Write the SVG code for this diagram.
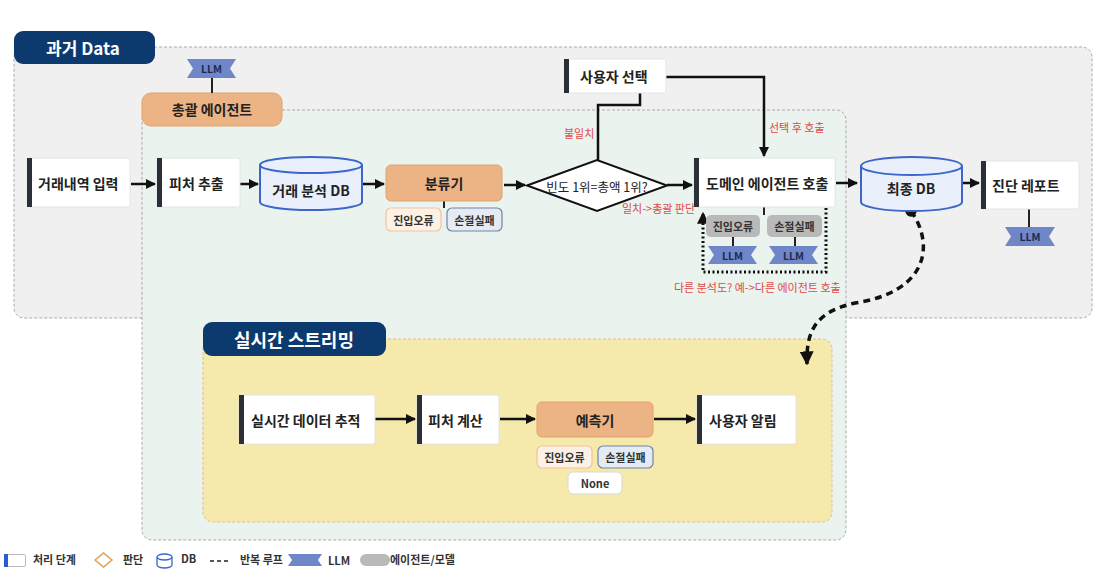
<svg xmlns="http://www.w3.org/2000/svg" width="1100" height="580" viewBox="0 0 1100 580">
<style>
text{font-family:"Noto Sans CJK KR","Noto Sans",sans-serif;fill:#222;}
.t{font-size:14px;font-weight:700;dominant-baseline:central;}
.tc{text-anchor:middle;}
.proc{fill:#fff;stroke:#e2e4e6;stroke-width:1;}
.bar{fill:#2b3038;}
.db{fill:#e9f0fc;stroke:#3c66c9;stroke-width:2;}
.orange{fill:#ecb485;stroke:#e2a26d;stroke-width:1;}
.tagO{fill:#fdf1e6;stroke:#f0c39c;stroke-width:1.2;}
.tagB{fill:#e5ebf4;stroke:#6f85a3;stroke-width:1.2;}
.tagW{fill:#fff;stroke:#d8d8d8;stroke-width:1;}
.tagG{fill:#b9b9b9;}
.tg{font-size:11px;font-weight:700;dominant-baseline:central;text-anchor:middle;fill:#333;}
.llm{fill:#6f86c9;}
.lt{font-size:10.5px;font-weight:700;dominant-baseline:central;text-anchor:middle;fill:#1d2b52;}
.red{font-size:11px;fill:#e04848;dominant-baseline:central;}
.conn{fill:none;stroke:#111;stroke-width:2.5;}
.thin{fill:none;stroke:#222;stroke-width:2;}
.pill{fill:#0c3a6e;}
.pt{fill:#fff;font-weight:700;dominant-baseline:central;text-anchor:middle;}
.lg{font-size:11px;font-weight:700;dominant-baseline:central;fill:#333;}
</style>
<defs>
<marker id="ah" viewBox="0 0 10 10" refX="9" refY="5" markerWidth="4" markerHeight="4" orient="auto-start-reverse">
<path d="M0,0 L10,5 L0,10 z" fill="#111"/>
</marker>
<marker id="dot" viewBox="0 0 10 10" refX="5" refY="5" markerWidth="3.6" markerHeight="3.6">
<circle cx="5" cy="5" r="4.5" fill="#111"/>
</marker>
</defs>
<rect width="1100" height="580" fill="#fff"/>

<!-- containers -->
<g id="past-data">
<rect x="14" y="47" width="1078" height="271" rx="10" fill="#f0f0f0" stroke="#a9a9a9" stroke-width="1" stroke-dasharray="3 2"/>
</g>
<g id="general-agent">
<rect x="142" y="110" width="704" height="430" rx="10" fill="#eaf3ee" stroke="#a9a9a9" stroke-width="1" stroke-dasharray="3 2"/>
</g>
<g id="realtime">
<rect x="203" y="339" width="629" height="183" rx="10" fill="#f5e9ab" stroke="#e7bd87" stroke-width="1" stroke-dasharray="3 2"/>
</g>
<g id="past-data-label">
<rect x="14" y="31" width="141" height="33" rx="9" class="pill"/>
<text x="83" y="47" class="pt" font-size="17">과거 Data</text>
</g>
<g id="general-agent-label">
<rect x="142" y="93" width="140" height="33" rx="9" class="orange" stroke="none"/>
<text x="212" y="109" class="t tc" font-size="16">총괄 에이전트</text>
</g>
<g id="realtime-label">
<rect x="203" y="322" width="183" height="34" rx="9" class="pill"/>
<text x="294" y="339" class="pt" font-size="18">실시간 스트리밍</text>
</g>

<!-- connectors -->
<g id="connectors">
<line x1="212" y1="78" x2="212" y2="93" class="thin"/>
<line x1="131" y1="184" x2="155" y2="184" class="conn" marker-end="url(#ah)"/>
<line x1="240" y1="184" x2="258" y2="184" class="conn" marker-end="url(#ah)"/>
<line x1="362" y1="184" x2="384" y2="184" class="conn" marker-end="url(#ah)"/>
<line x1="444" y1="201" x2="444" y2="208" class="thin"/>
<line x1="504" y1="185" x2="525" y2="185" class="conn" marker-end="url(#ah)"/>
<polyline points="640,93 640,105 598,105 598,160" class="conn"/>
<polyline points="666,77 764,77 764,156" class="conn" marker-end="url(#ah)"/>
<line x1="667" y1="185" x2="692" y2="185" class="conn" marker-end="url(#ah)"/>
<line x1="764" y1="207" x2="764" y2="215" class="thin"/>
<line x1="733" y1="237" x2="733" y2="246" class="thin"/>
<line x1="795" y1="237" x2="795" y2="246" class="thin"/>
<path d="M826,208 V272 H703 V213" fill="none" stroke="#111" stroke-width="3" stroke-dasharray="2 2.5" marker-end="url(#ah)"/>
<line x1="836" y1="183" x2="857" y2="183" class="conn" marker-end="url(#ah)"/>
<line x1="952" y1="183" x2="979" y2="183" class="conn" marker-end="url(#ah)"/>
<line x1="1029" y1="209" x2="1029" y2="227" class="thin"/>
<path d="M911,211 C935,245 928,292 855,303 C816,312 806,330 807,364" fill="none" stroke="#111" stroke-width="3.5" stroke-dasharray="7 5" marker-start="url(#dot)" marker-end="url(#ah)"/>
<line x1="375" y1="419" x2="415" y2="419" class="conn" marker-end="url(#ah)"/>
<line x1="500" y1="419" x2="535" y2="419" class="conn" marker-end="url(#ah)"/>
<line x1="654" y1="419" x2="695" y2="419" class="conn" marker-end="url(#ah)"/>
<text x="564" y="133" class="red">불일치</text>
<text x="769" y="127" class="red">선택 후 호출</text>
<text x="622" y="208" class="red">일치-&gt;총괄 판단</text>
<text x="674" y="287" class="red">다른 분석도? 예-&gt;다른 에이전트 호출</text>
</g>

<!-- nodes -->
<g id="llm-general">
<polygon points="187,59 236,59 230,68.5 236,78 187,78 193,68.5" class="llm"/>
<text x="211.5" y="68.5" class="lt">LLM</text>
</g>
<g id="input">
<rect x="27" y="158" width="103" height="49" rx="2" class="proc"/>
<rect x="27" y="158" width="5" height="49" class="bar"/>
<text x="38" y="183" class="t">거래내역 입력</text>
</g>
<g id="feature-extract">
<rect x="157" y="158" width="83" height="49" rx="2" class="proc"/>
<rect x="157" y="158" width="5" height="49" class="bar"/>
<text x="169" y="183" class="t">피처 추출</text>
</g>
<g id="analysis-db">
<path d="M260,165 V202 A51,8 0 0 0 362,202 V165" class="db"/>
<ellipse cx="311" cy="165" rx="51" ry="8" class="db"/>
<text x="311" y="190" class="t tc">거래 분석 DB</text>
</g>
<g id="classifier">
<rect x="386" y="165" width="116" height="36" rx="5" class="orange"/>
<text x="444" y="183" class="t tc" font-size="16">분류기</text>
</g>
<g id="classifier-tags">
<rect x="386" y="208" width="55" height="23" rx="5" class="tagO"/>
<text x="413.5" y="219.5" class="tg">진입오류</text>
<rect x="447" y="208" width="55" height="23" rx="5" class="tagB"/>
<text x="474.5" y="219.5" class="tg">손절실패</text>
</g>
<g id="decision">
<polygon points="527,185.5 597,160 667,185.5 597,211" fill="#fff" stroke="#111" stroke-width="2"/>
<text x="597" y="186" font-size="12.5" class="tc" dominant-baseline="central">빈도 1위=총액 1위?</text>
</g>
<g id="user-select">
<rect x="564" y="59" width="102" height="34" rx="2" class="proc"/>
<rect x="564" y="59" width="5" height="34" class="bar"/>
<text x="580" y="76" class="t">사용자 선택</text>
</g>
<g id="domain-agent">
<rect x="694" y="158" width="141" height="49" rx="2" class="proc"/>
<rect x="694" y="158" width="5" height="49" class="bar"/>
<text x="706" y="183" class="t">도메인 에이전트 호출</text>
</g>
<g id="domain-tags">
<rect x="706" y="215" width="54" height="22" rx="5" class="tagG"/>
<text x="733" y="226" class="tg">진입오류</text>
<rect x="767" y="215" width="55" height="22" rx="5" class="tagG"/>
<text x="794.5" y="226" class="tg">손절실패</text>
<polygon points="708,246 757,246 751,255 757,264 708,264 714,255" class="llm"/>
<text x="732.5" y="255" class="lt">LLM</text>
<polygon points="769,246 818,246 812,255 818,264 769,264 775,255" class="llm"/>
<text x="793.5" y="255" class="lt">LLM</text>
</g>
<g id="final-db">
<path d="M861,166 V202 A50.5,9 0 0 0 962,202 V166" class="db"/>
<ellipse cx="911.5" cy="166" rx="50.5" ry="9" class="db"/>
<text x="911" y="188" class="t tc">최종 DB</text>
</g>
<g id="report">
<rect x="981" y="161" width="98" height="48" rx="2" class="proc"/>
<rect x="981" y="161" width="5" height="48" class="bar"/>
<text x="992" y="185" class="t">진단 레포트</text>
</g>
<g id="llm-report">
<polygon points="1005,227 1055,227 1049,236.5 1055,246 1005,246 1011,236.5" class="llm"/>
<text x="1030" y="236.5" class="lt">LLM</text>
</g>
<g id="realtime-track">
<rect x="239" y="395" width="136" height="49" rx="2" class="proc"/>
<rect x="239" y="395" width="5" height="49" class="bar"/>
<text x="251" y="420" class="t">실시간 데이터 추적</text>
</g>
<g id="feature-calc">
<rect x="417" y="395" width="82" height="49" rx="2" class="proc"/>
<rect x="417" y="395" width="5" height="49" class="bar"/>
<text x="428" y="420" class="t">피처 계산</text>
</g>
<g id="predictor">
<rect x="537" y="402" width="116" height="35" rx="5" class="orange"/>
<text x="595" y="419.5" class="t tc" font-size="16">예측기</text>
</g>
<g id="predictor-tags">
<rect x="537" y="446" width="55" height="22" rx="5" class="tagO"/>
<text x="564.5" y="457" class="tg">진입오류</text>
<rect x="598" y="446" width="55" height="22" rx="5" class="tagB"/>
<text x="625.5" y="457" class="tg">손절실패</text>
<rect x="568" y="472" width="54" height="22" rx="5" class="tagW"/>
<text x="595" y="483" class="tg">None</text>
</g>
<g id="user-alert">
<rect x="697" y="395" width="99" height="49" rx="2" class="proc"/>
<rect x="697" y="395" width="5" height="49" class="bar"/>
<text x="709" y="420" class="t">사용자 알림</text>
</g>

<!-- legend -->
<g id="legend">
<rect x="4.5" y="554.5" width="21" height="12" rx="1.5" fill="#fff" stroke="#bbb"/>
<rect x="4" y="554" width="4" height="13" fill="#2a5bd7"/>
<text x="33" y="559" class="lg">처리 단계</text>
<polygon points="95,560 103.5,553 112,560 103.5,567" fill="none" stroke="#e0a04e" stroke-width="1.5"/>
<text x="123" y="559" class="lg">판단</text>
<path d="M157,557 V565 A7.5,3 0 0 0 172,565 V557" fill="#fff" stroke="#3c66c9" stroke-width="1.3"/>
<ellipse cx="164.5" cy="557" rx="7.5" ry="3" fill="#fff" stroke="#3c66c9" stroke-width="1.3"/>
<text x="181" y="558" class="lg">DB</text>
<line x1="210" y1="561" x2="230" y2="561" stroke="#222" stroke-width="1.5" stroke-dasharray="4 3"/>
<text x="240" y="559" class="lg">반복 루프</text>
<polygon points="288,554 322,554 318,560 322,566 288,566 292,560" class="llm"/>
<text x="328" y="560" class="lg" font-weight="400">LLM</text>
<rect x="360" y="554" width="30" height="12" rx="6" fill="#b9b9b9"/>
<text x="390" y="559" class="lg" font-weight="400">에이전트/모델</text>
</g>
</svg>
